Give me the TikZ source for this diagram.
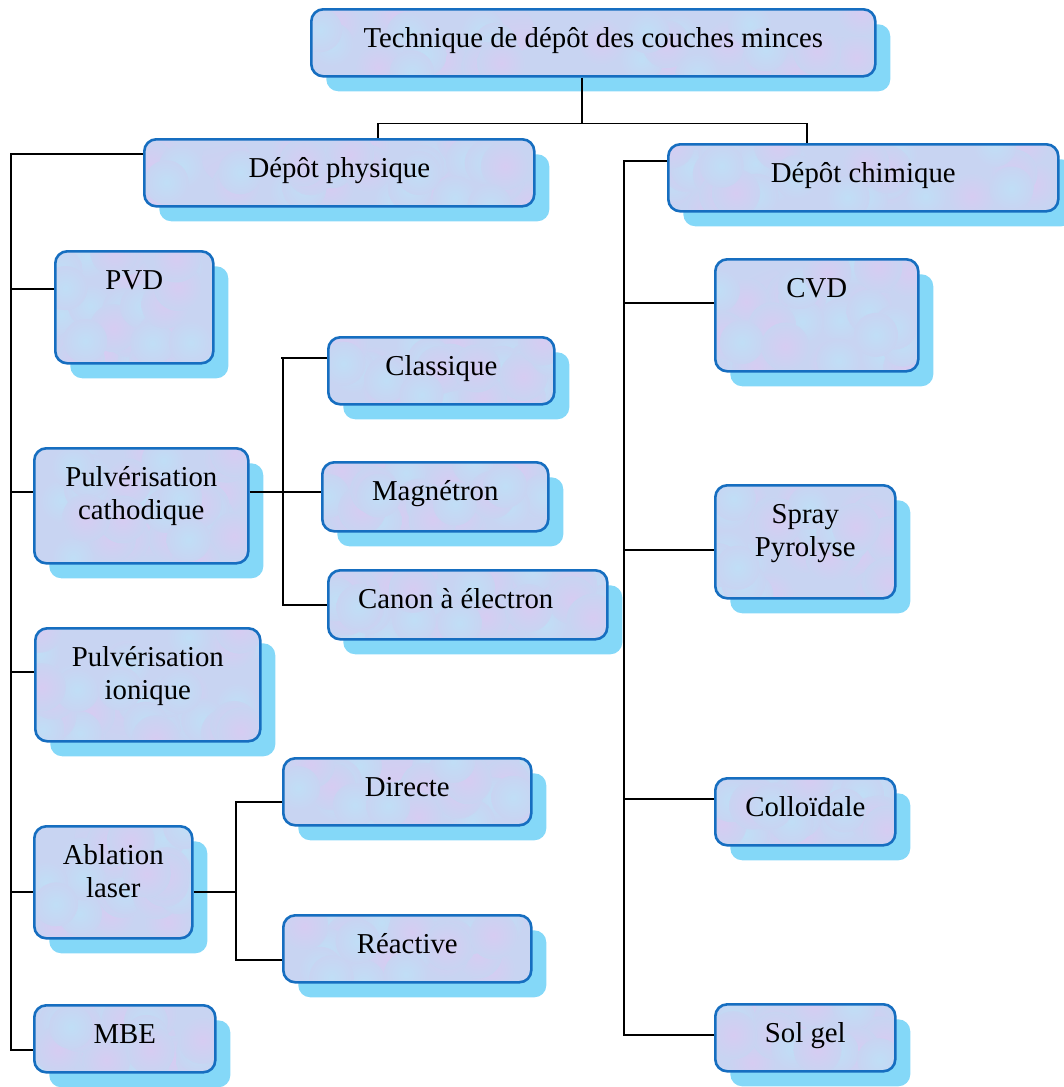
\documentclass[tikz,border=0pt]{standalone}
\usepackage{fontspec}
\setmainfont{Liberation Serif}
\usetikzlibrary{calc,shadows}

\definecolor{boxedge}{RGB}{22,110,192}
\definecolor{boxshade}{RGB}{132,216,248}
\definecolor{boxfill}{RGB}{200,212,242}
\definecolor{tintpink}{RGB}{214,204,242}
\definecolor{tintcyan}{RGB}{192,222,246}

\pgfmathsetseed{11}

\tikzset{
  mottle/.style={
    path picture={
      \foreach \k in {1,...,18}{
        \shade[inner color=tintpink, outer color=boxfill]
          let \p1=(path picture bounding box.south west),
              \p2=(path picture bounding box.north east) in
          ({\x1+rnd*(\x2-\x1)},{\y1+rnd*(\y2-\y1)}) circle (24pt);
        \shade[inner color=tintcyan, outer color=boxfill]
          let \p1=(path picture bounding box.south west),
              \p2=(path picture bounding box.north east) in
          ({\x1+rnd*(\x2-\x1)},{\y1+rnd*(\y2-\y1)}) circle (22pt);
      }
    }},
  cell/.style={rectangle, draw=boxedge, line width=2.6pt, rounded corners=12pt,
    fill=boxfill, mottle, inner sep=0pt, anchor=north west,
    drop shadow={shadow xshift=15pt, shadow yshift=-15pt, fill=boxshade, opacity=1}},
  caption/.style={anchor=north, inner sep=0pt, align=center,
    font=\fontsize{28.8}{33}\selectfont},
  wire/.style={draw=black, line width=1.7pt}
}

\begin{document}
\begin{tikzpicture}[x=1pt, y=-1pt]
\useasboundingbox (0,0) rectangle (1063,1087);

% ---- boxes: top-left corner, width and height
\node[cell, minimum width=564pt, minimum height=67pt]  (title)     at (310,8)    {};
\node[cell, minimum width=390pt, minimum height=67pt]  (phys)      at (143,138)  {};
\node[cell, minimum width=390pt, minimum height=67pt]  (chim)      at (667,143)  {};
\node[cell, minimum width=158pt, minimum height=112pt] (pvd)       at (54,250)   {};
\node[cell, minimum width=226pt, minimum height=67pt]  (classique) at (327,336)  {};
\node[cell, minimum width=226pt, minimum height=69pt]  (magnetron) at (321,461)  {};
\node[cell, minimum width=279pt, minimum height=69pt]  (canon)     at (327,569)  {};
\node[cell, minimum width=214pt, minimum height=115pt] (pcath)     at (33,447)   {};
\node[cell, minimum width=225pt, minimum height=113pt] (pion)      at (34,627)   {};
\node[cell, minimum width=248pt, minimum height=67pt]  (directe)   at (282,757)  {};
\node[cell, minimum width=158pt, minimum height=112pt] (ablation)  at (33,825)   {};
\node[cell, minimum width=248pt, minimum height=67pt]  (reactive)  at (282,914)  {};
\node[cell, minimum width=181pt, minimum height=67pt]  (mbe)       at (33,1004)  {};
\node[cell, minimum width=203pt, minimum height=112pt] (cvd)       at (714,258)  {};
\node[cell, minimum width=180pt, minimum height=113pt] (spray)     at (714,484)  {};
\node[cell, minimum width=180pt, minimum height=67pt]  (colloid)   at (714,777)  {};
\node[cell, minimum width=180pt, minimum height=67pt]  (solgel)    at (714,1003) {};

% ---- captions, set near the top of each box
\node[caption] (title-t)     at ($(title.north)+(0,16)$)     {\strut Technique de dépôt des couches minces};
\node[caption] (phys-t)      at ($(phys.north)+(0,16)$)      {\strut Dépôt physique};
\node[caption] (chim-t)      at ($(chim.north)+(0,16)$)      {\strut Dépôt chimique};
\node[caption] (pvd-t)       at ($(pvd.north)+(0,16)$)       {\strut PVD};
\node[caption] (classique-t) at ($(classique.north)+(0,16)$) {\strut Classique};
\node[caption] (magnetron-t) at ($(magnetron.north)+(0,16)$) {\strut Magnétron};
\node[caption] (canon-t)     at ($(canon.north)+(-12,16)$)   {\strut Canon à électron};
\node[caption] (pcath-t)     at ($(pcath.north)+(0,16)$)     {\strut Pulvérisation\\cathodique};
\node[caption] (pion-t)      at ($(pion.north)+(0,16)$)      {\strut Pulvérisation\\ionique};
\node[caption] (directe-t)   at ($(directe.north)+(0,16)$)   {\strut Directe};
\node[caption] (ablation-t)  at ($(ablation.north)+(0,16)$)  {\strut Ablation\\laser};
\node[caption] (reactive-t)  at ($(reactive.north)+(0,16)$)  {\strut Réactive};
\node[caption] (mbe-t)       at ($(mbe.north)+(0,16)$)       {\strut MBE};
\node[caption] (cvd-t)       at ($(cvd.north)+(0,16)$)       {\strut CVD};
\node[caption] (spray-t)     at ($(spray.north)+(0,16)$)     {\strut Spray\\Pyrolyse};
\node[caption] (colloid-t)   at ($(colloid.north)+(0,16)$)   {\strut Colloïdale};
\node[caption] (solgel-t)    at ($(solgel.north)+(0,16)$)    {\strut Sol gel};

% ---- attachment points on the box borders
\coordinate (titleA)  at ($(title.south)+(-11,0)$);
\coordinate (physA)   at ($(phys.north)+(39,0)$);
\coordinate (chimA)   at ($(chim.north)+(-56,0)$);
\coordinate (hub)     at ($(titleA)+(0,46)$);

\coordinate (physL)   at ($(phys.north west)+(0,16)$);
\coordinate (pvdL)    at ($(pvd.north west)+(0,39)$);
\coordinate (pcathL)  at ($(pcath.north west)+(0,45)$);
\coordinate (pionL)   at ($(pion.north west)+(0,45)$);
\coordinate (ablL)    at ($(ablation.north west)+(0,67)$);
\coordinate (mbeL)    at ($(mbe.north west)+(0,46)$);
\coordinate (lbus)    at ($(physL)+(-132,0)$);

\coordinate (pcathR)  at ($(pcath.north east)+(0,45)$);
\coordinate (magL)    at ($(magnetron.north west)+(0,31)$);
\coordinate (clasL)   at ($(classique.north west)+(0,22)$);
\coordinate (canonL)  at ($(canon.north west)+(0,36)$);
\coordinate (sbus)    at ($(clasL)+(-44,0)$);

\coordinate (ablR)    at ($(ablation.north east)+(0,67)$);
\coordinate (dirL)    at ($(directe.north west)+(0,45)$);
\coordinate (reaL)    at ($(reactive.north west)+(0,46)$);
\coordinate (abus)    at ($(dirL)+(-46,0)$);

\coordinate (chimL)   at ($(chim.north west)+(0,18)$);
\coordinate (cvdL)    at ($(cvd.north west)+(0,45)$);
\coordinate (sprayL)  at ($(spray.north west)+(0,66)$);
\coordinate (collL)   at ($(colloid.north west)+(0,22)$);
\coordinate (solL)    at ($(solgel.north west)+(0,32)$);
\coordinate (rbus)    at ($(chimL)+(-43,0)$);

% ---- connectors
\draw[wire] (titleA) -- (hub);
\draw[wire] (physA) -- (physA |- hub) -- (chimA |- hub) -- (chimA);

\draw[wire] (physL) -- (lbus) |- (mbeL);
\draw[wire] (lbus |- pvdL)   -- (pvdL);
\draw[wire] (lbus |- pcathL) -- (pcathL);
\draw[wire] (lbus |- pionL)  -- (pionL);
\draw[wire] (lbus |- ablL)   -- (ablL);

\draw[wire] (pcathR) -- (magL);
\draw[wire] (clasL) -- ($(sbus)+(-2,0)$);
\draw[wire] (sbus) |- (canonL);

\draw[wire] (ablR) -- (abus |- ablR);
\draw[wire] (dirL) -- (abus) |- (reaL);

\draw[wire] (chimL) -- (rbus) |- (solL);
\draw[wire] (rbus |- cvdL)   -- (cvdL);
\draw[wire] (rbus |- sprayL) -- (sprayL);
\draw[wire] (rbus |- collL)  -- (collL);
\end{tikzpicture}
\end{document}
